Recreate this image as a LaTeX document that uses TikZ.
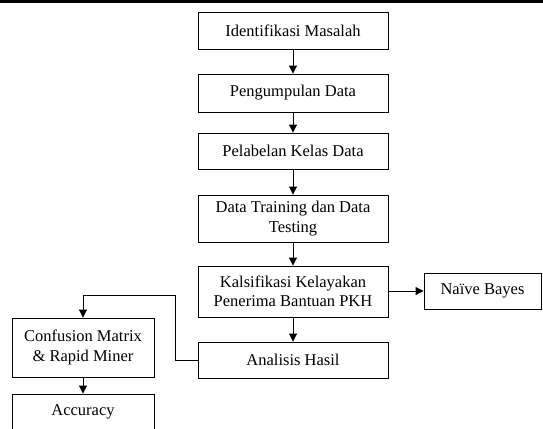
\documentclass[tikz,border=0pt]{standalone}
\usepackage{fontspec}
\setmainfont{Liberation Serif}
\usetikzlibrary{arrows.meta}
\begin{document}
\begin{tikzpicture}[x=1pt,y=-1pt,
  box/.style={draw, line width=0.9pt, align=center, inner sep=0pt,
    font=\fontsize{16.5}{19.5}\selectfont},
  conn/.style={line width=0.9pt, -{Triangle[length=8pt,width=8pt]}},
  plain/.style={line width=0.9pt}]
\useasboundingbox (0,0) rectangle (543,428);
\clip (0,0) rectangle (543,428);
\draw[line width=2.2pt] (0,1.5) -- (543,1.5);
\node[box, minimum width=190pt, minimum height=37pt] (ident) at (293,30.5) {Identifikasi Masalah};
\node[box, minimum width=190pt, minimum height=38pt] (kumpul) at (293,93) {Pengumpulan Data};
\node[box, minimum width=190pt, minimum height=36pt] (label) at (293,151) {Pelabelan Kelas Data};
\node[box, minimum width=190pt, minimum height=47pt] (train) at (293,218.5) {Data Training dan Data\\Testing};
\node[box, minimum width=190pt, minimum height=51pt] (klas) at (293,291.5) {Kalsifikasi Kelayakan\\Penerima Bantuan PKH};
\node[box, minimum width=117pt, minimum height=36pt] (nb) at (482.5,291) {Naïve Bayes};
\node[box, minimum width=190pt, minimum height=36pt] (anal) at (293,360) {Analisis Hasil};
\node[box, minimum width=142pt, minimum height=59pt] (conf) at (83,347.5) {Confusion Matrix\\\& Rapid Miner};
\node[box, minimum width=142pt, minimum height=36pt] (acc) at (83,412) {Accuracy};
\coordinate (c1) at (175,360);
\coordinate (c2) at (175,295);
\coordinate (c3) at (83,295);
\draw[conn] (ident) -- (kumpul);
\draw[conn] (kumpul) -- (label);
\draw[conn] (label) -- (train);
\draw[conn] (train) -- (klas);
\draw[conn] (klas) -- (anal);
\draw[conn] (klas.east |- nb.west) -- (nb.west);
\draw[conn] (anal.west) -- (c1) -- (c2) -- (c3) -- (conf.north);
\draw[conn] (conf) -- (acc);
\end{tikzpicture}
\end{document}
